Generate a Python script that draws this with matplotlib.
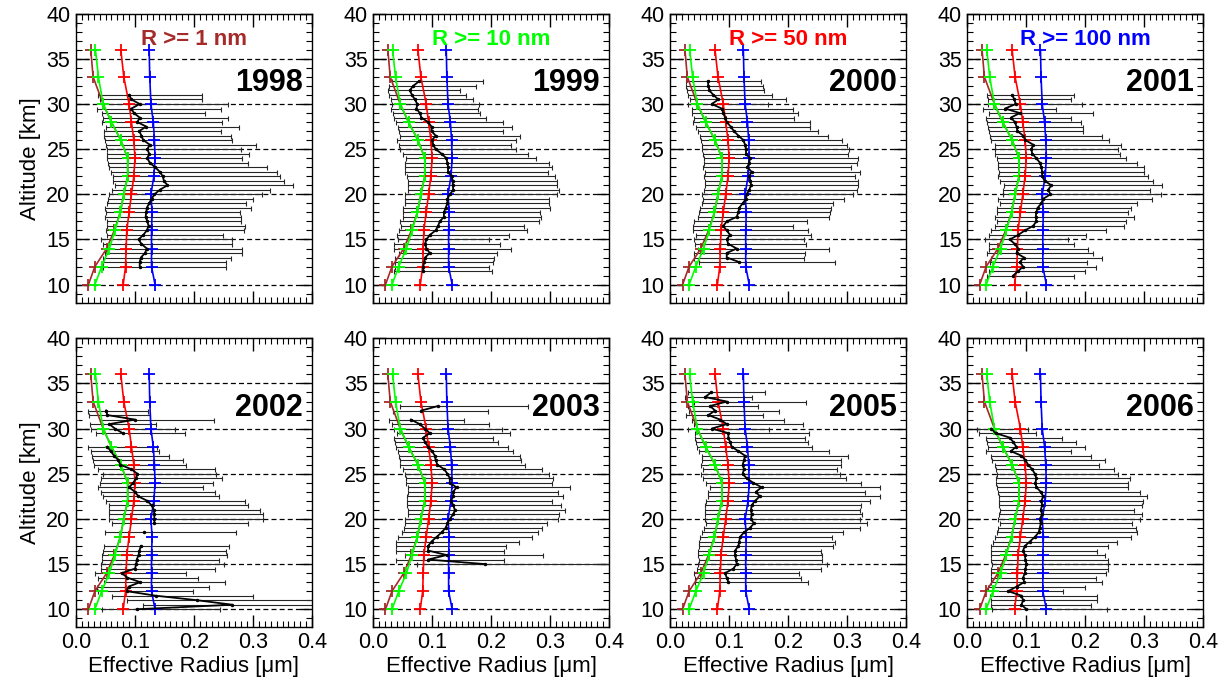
import numpy as np
import matplotlib
matplotlib.use("Agg")
import matplotlib.pyplot as plt
from matplotlib.ticker import MultipleLocator

plt.rcParams['font.family'] = ['Liberation Sans', 'DejaVu Sans']

nan = np.nan
years = ["1998", "1999", "2000", "2001", "2002", "2003", "2005", "2006"]
top_alt = [31.0, 32.5, 32.5, 31.0, 32.0, 32.5, 34.0, 30.0]

c98 = [0.090,0.094,0.108,0.094,0.098,0.108,0.104,0.119,0.107,0.111,0.114,0.125,0.121,0.124,0.121,0.125,0.134,0.142,0.147,0.149,0.155,0.142,0.133,0.128,0.124,0.120,0.119,0.118,0.121,0.123,0.120,0.114,0.106,0.111,0.120,0.117,0.110,0.108,0.108]
u98 = [0.214,0.214,0.258,0.245,0.218,0.257,0.248,0.277,0.245,0.262,0.264,0.305,0.279,0.294,0.281,0.292,0.323,0.341,0.346,0.353,0.367,0.328,0.316,0.300,0.288,0.297,0.278,0.280,0.280,0.287,0.285,0.249,0.264,0.265,0.282,0.281,0.262,0.255,0.254]

c99 = [0.0775,0.068,0.062,0.066,0.0707,0.075,0.0735,0.079,0.082,0.093,0.099,0.099,0.106,0.100,0.102,0.106,0.116,0.124,0.126,0.127,0.127,0.133,0.135,0.135,0.136,0.130,0.126,0.126,0.123,0.120,0.120,0.113,0.110,0.106,0.096,0.0905,0.088,0.0905,0.096,0.088,0.0866,0.085,0.085]
u99 = [0.186,0.174,0.148,0.158,0.169,0.179,0.178,0.181,0.191,0.221,0.236,0.221,0.249,0.242,0.234,0.242,0.262,0.276,0.298,0.303,0.296,0.309,0.311,0.311,0.315,0.311,0.298,0.298,0.299,0.283,0.285,0.282,0.256,0.260,0.230,0.197,0.215,0.234,0.210,0.205,0.204,0.197,0.201]

c00 = [0.0637,0.0648,0.0665,0.0732,0.0817,0.0704,0.0873,0.0901,0.093,0.0958,0.1025,0.108,0.1155,0.124,0.1268,0.1285,0.1285,0.135,0.134,0.1307,0.138,0.134,0.136,0.137,0.134,0.1296,0.1285,0.1228,0.117,0.1155,0.1127,0.0958,0.090,0.0958,0.1014,0.0958,0.0986,0.1127,0.0958,0.0958,0.117]
u00 = [0.154,0.157,0.159,0.173,0.197,0.166,0.208,0.217,0.210,0.237,0.237,0.251,0.268,0.292,0.300,0.303,0.301,0.318,0.317,0.307,0.322,0.313,0.318,0.318,0.317,0.310,0.295,0.276,0.272,0.270,0.269,0.232,0.208,0.234,0.239,0.226,0.230,0.269,0.229,0.226,0.279]

c01 = [0.0766,0.0794,0.0823,0.064,0.089,0.074,0.0806,0.0834,0.085,0.0946,0.0986,0.1115,0.1087,0.110,0.117,0.123,0.1256,0.1268,0.1268,0.131,0.1425,0.137,0.141,0.1285,0.1256,0.119,0.117,0.116,0.117,0.1115,0.0975,0.0862,0.0721,0.0806,0.0862,0.0834,0.0963,0.089,0.0946,0.0862,0.0777]
u01 = [0.180,0.176,0.195,0.151,0.213,0.176,0.193,0.196,0.196,0.228,0.241,0.261,0.256,0.258,0.269,0.288,0.299,0.299,0.306,0.314,0.330,0.310,0.328,0.313,0.288,0.278,0.273,0.283,0.269,0.265,0.235,0.202,0.171,0.180,0.2045,0.213,0.229,0.203,0.2175,0.199,0.181]

c02 = [0.051,0.053,0.100,0.0566,0.066,0.079,nan,nan,0.053,0.059,0.0645,0.072,0.075,0.094,0.104,0.1017,0.097,0.090,0.100,0.1056,0.121,0.128,0.132,0.1328,0.1328,0.1328,nan,0.116,nan,nan,0.110,0.1075,0.106,0.103,0.102,0.100,0.0775,0.087,0.1087,0.089,0.086,0.135,0.205,0.265,0.103]
u02 = [0.1228,0.125,0.234,0.1358,0.168,0.185,nan,nan,0.138,0.1415,0.158,0.182,0.187,0.2356,0.237,0.247,0.2316,0.215,0.2356,0.243,0.286,0.292,0.312,0.3175,0.3175,0.292,nan,0.272,nan,nan,0.2586,0.2547,0.256,0.243,0.25,0.236,0.187,0.206,0.253,0.2246,0.199,0.30,0.49,0.62,0.2445]

c03 = [0.110,0.082,nan,0.064,0.079,0.0877,0.096,0.085,0.0877,0.0933,0.100,0.1047,0.106,0.109,0.1205,0.126,0.130,0.130,0.1414,0.1358,0.1358,0.132,0.1358,0.1386,0.1358,0.130,0.126,0.1228,0.116,0.1075,0.099,0.0933,0.0933,0.1245,0.0933,0.1895]
u03 = [0.262,0.195,nan,0.1545,0.197,0.218,0.232,0.204,0.212,0.228,0.2376,0.249,0.250,0.2574,0.2857,0.298,0.3055,0.3027,0.334,0.314,0.3214,0.3027,0.3185,0.3253,0.3157,0.314,0.294,0.2857,0.279,0.269,0.248,0.225,0.222,0.2885,0.2223,0.48]

c05 = [0.0693,0.0592,0.0958,0.0676,0.076,0.0648,0.0845,0.0958,0.0704,0.0986,0.0986,0.1014,0.1042,0.1155,0.1268,0.125,0.1228,0.125,0.1228,0.1296,0.1408,0.155,0.1453,0.152,0.1437,0.138,0.137,0.138,0.137,0.142,0.135,0.125,0.1183,0.117,0.1155,0.110,0.110,0.1115,0.1127,0.107,0.093,0.0958,0.0986]
u05 = [0.1606,0.138,0.231,0.149,0.184,0.1566,0.193,0.225,0.167,0.2355,0.2287,0.234,0.241,0.269,0.301,0.290,0.289,0.283,0.288,0.2986,0.324,0.356,0.331,0.356,0.339,0.324,0.321,0.325,0.322,0.334,0.322,0.293,0.274,0.279,0.276,0.255,0.2575,0.2575,0.265,0.256,0.2186,0.2225,0.234]

c06 = [0.0403,0.048,0.0721,0.078,0.083,0.0738,0.0918,0.0986,0.103,0.110,0.1144,0.117,0.1155,0.117,0.1245,0.1285,0.1256,0.1268,0.1245,0.1268,0.1228,0.1245,0.1228,0.121,0.1144,0.106,0.0975,0.0946,0.0975,0.0986,0.1003,0.0986,0.0975,0.0946,0.0963,0.0834,0.0693,0.0918,0.0946,0.0918,0.1003]
u06 = [0.103,0.117,0.1606,0.1837,0.199,0.175,0.210,0.234,0.223,0.2485,0.256,0.2766,0.272,0.273,0.2935,0.304,0.2975,0.296,0.282,0.296,0.293,0.279,0.286,0.288,0.278,0.254,0.238,0.220,0.234,0.238,0.239,0.238,0.2355,0.2186,0.228,0.199,0.163,0.220,0.220,0.209,0.237]

centers = [c98, c99, c00, c01, c02, c03, c05, c06]
uppers = [u98, u99, u00, u01, u02, u03, u05, u06]

# model curves (size thresholds)
alt_model = [10, 12, 14, 16, 18, 20, 22, 24, 26, 28, 30, 33, 36]
r_1nm = [0.021, 0.032, 0.052, 0.065, 0.075, 0.081, 0.0876, 0.0876, 0.076, 0.060, 0.046, 0.029, 0.025]
r_10nm = [0.032, 0.0435, 0.0565, 0.066, 0.075, 0.081, 0.0876, 0.0876, 0.076, 0.060, 0.046, 0.038, 0.033]
r_50nm = [0.080, 0.084, 0.085, 0.086, 0.090, 0.094, 0.098, 0.100, 0.098, 0.094, 0.090, 0.081, 0.076]
r_100nm = [0.134, 0.128, 0.128, 0.128, 0.129, 0.127, 0.132, 0.134, 0.133, 0.131, 0.127, 0.125, 0.124]
model_series = [r_1nm, r_10nm, r_50nm, r_100nm]
model_colors = ['#a52a2a', '#00ff00', '#ff0000', '#0000ff']
model_labels = ['R >= 1 nm', 'R >= 10 nm', 'R >= 50 nm', 'R >= 100 nm']

W, H = 1228, 684
fig = plt.figure(figsize=(W / 100, H / 100), dpi=100)
lefts_px = [76, 373.1, 670.2, 967.3]
bottoms = [1 - 302.7 / H, 1 - 627.3 / H]
aw, ah = 236 / W, 289 / H

for i, yr in enumerate(years):
    r, col = divmod(i, 4)
    ax = fig.add_axes([lefts_px[col] / W, bottoms[r], aw, ah])
    ax.set_xlim(0, 0.4)
    ax.set_ylim(8, 40)
    for yl in [10, 15, 20, 25, 30, 35]:
        ax.axhline(yl, color='k', lw=0.9, ls=(0, (4, 2.5)), zorder=1)

    c = np.array(centers[i], dtype=float)
    u = np.array(uppers[i], dtype=float)
    alt = top_alt[i] - 0.5 * np.arange(len(c))
    lo = c ** 2 / u
    ok = ~np.isnan(c)
    ax.errorbar(c[ok], alt[ok], xerr=[c[ok] - lo[ok], u[ok] - c[ok]], fmt='none',
                ecolor='#262626', elinewidth=0.8, capsize=1.8, capthick=0.8, zorder=2)

    for s, colr in zip(model_series, model_colors):
        ax.plot(s, alt_model, color=colr, lw=1.2, marker='+', ms=8, mew=1.3, zorder=3)

    ax.plot(c, alt, color='k', lw=1.3, marker='.', ms=3, zorder=4)

    ax.xaxis.set_major_locator(MultipleLocator(0.1))
    ax.xaxis.set_minor_locator(MultipleLocator(0.01))
    ax.yaxis.set_major_locator(MultipleLocator(5))
    ax.yaxis.set_minor_locator(MultipleLocator(1))
    ax.tick_params(which='both', direction='in', top=True, right=True, labelsize=15.5)
    ax.tick_params(axis='x', which='major', length=9, width=1)
    ax.tick_params(axis='x', which='minor', length=4.5, width=0.8)
    ax.tick_params(axis='y', which='major', length=9, width=1, pad=4)
    ax.tick_params(axis='y', which='minor', length=4.5, width=0.8)
    for sp in ax.spines.values():
        sp.set_linewidth(1.0)

    if r == 0:
        ax.set_xticklabels([])
        ax.text(0.5, 0.892, model_labels[col], transform=ax.transAxes, ha='center',
                va='baseline', fontsize=16, fontweight='bold', color=model_colors[col])
    else:
        ax.set_xticks([0.0, 0.1, 0.2, 0.3, 0.4])
        ax.set_xticklabels(['0.0', '0.1', '0.2', '0.3', '0.4'])
        ax.set_xlabel('Effective Radius [\u03bcm]', fontsize=16, labelpad=2)
    if col == 0:
        ax.set_ylabel('Altitude [km]', fontsize=16, labelpad=4)
    ax.text(0.962, 0.731, yr, transform=ax.transAxes, ha='right', va='baseline',
            fontsize=22, fontweight='bold', color='k')

fig.savefig('out.png', dpi=100)
